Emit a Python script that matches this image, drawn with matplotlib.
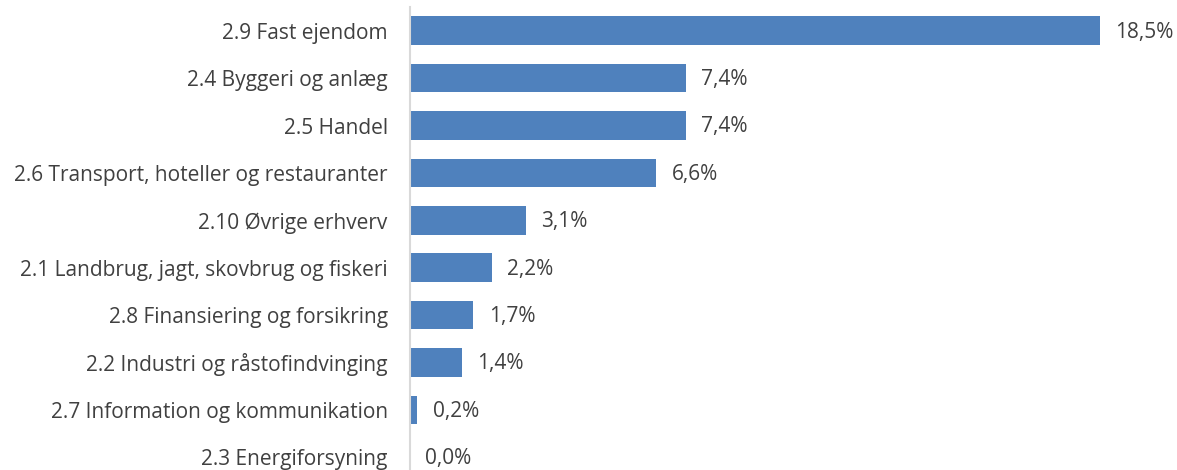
import matplotlib.pyplot as plt

# ─── data ─────────────────────────────────────────────────────────────────────
categories = [
    "2.9 Fast ejendom",
    "2.4 Byggeri og anlæg",
    "2.5 Handel",
    "2.6 Transport, hoteller og restauranter",
    "2.10 Øvrige erhverv",
    "2.1 Landbrug, jagt, skovbrug og fiskeri",
    "2.8 Finansiering og forsikring",
    "2.2 Industri og råstofindvinging",
    "2.7 Information og kommunikation",
    "2.3 Energiforsyning",
]
values = [18.5, 7.4, 7.4, 6.6, 3.1, 2.2, 1.7, 1.4, 0.2, 0.0]

BAR_COLOR = "#4F81BD"
TEXT_COLOR = "#404040"

plt.rcParams["font.family"] = ["Open Sans", "DejaVu Sans"]

fig = plt.figure(figsize=(11.77, 4.70), dpi=100)
ax = fig.add_axes([0.3483, -0.0234, 0.634, 1.0085])

ypos = list(range(len(categories)))
ax.barh(ypos, values, height=0.6, color=BAR_COLOR)
ax.set_ylim(len(categories) - 0.5, -0.5)
ax.set_xlim(0, 20)

for y, v in zip(ypos, values):
    ax.annotate(f"{v:.1f}".replace(".", ",") + "%", (v, y),
                xytext=(11, -1), textcoords="offset points",
                va="center", ha="left", fontsize=15, color=TEXT_COLOR)

ax.set_yticks(ypos)
ax.set_yticklabels(categories, fontsize=15, color=TEXT_COLOR)
ax.tick_params(axis="y", length=0, pad=16)
ax.set_xticks([])

for side in ("top", "right", "bottom"):
    ax.spines[side].set_visible(False)
ax.spines["left"].set_color("#D9D9D9")
ax.spines["left"].set_linewidth(1.5)

fig.savefig("out.png", dpi=100)
